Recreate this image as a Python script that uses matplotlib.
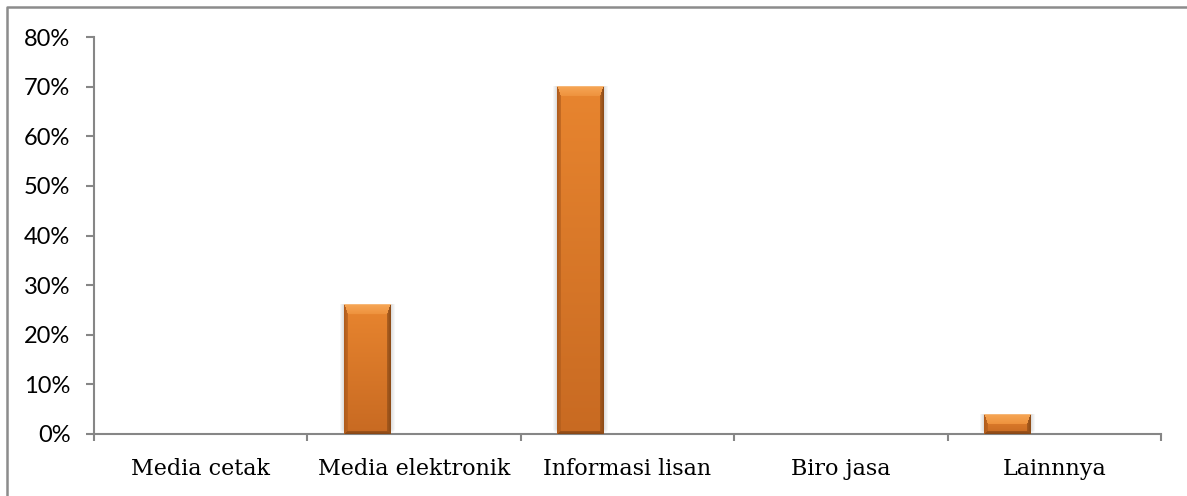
import numpy as np
import matplotlib
matplotlib.use("Agg")
import matplotlib.pyplot as plt
from matplotlib.lines import Line2D
from matplotlib.ticker import FuncFormatter, FixedLocator
from matplotlib.colors import to_rgb

categories = ["Media cetak", "Media elektronik", "Informasi lisan", "Biro jasa", "Lainnnya"]
shares = [0.0, 0.26, 0.70, 0.0, 0.04]
yticks = [0.0, 0.1, 0.2, 0.3, 0.4, 0.5, 0.6, 0.7, 0.8]

W, H, DPI = 1187, 496, 100
fig = plt.figure(figsize=(W / DPI, H / DPI), dpi=DPI)
fig.patch.set_facecolor("white")

ax = fig.add_axes([94 / W, 62 / H, (1161 - 94) / W, (434 - 37) / H])
ax.set_xlim(-0.5, len(categories) - 0.5)
ax.set_ylim(0, 0.8)

axis_grey = "#868686"
for side in ("top", "right"):
    ax.spines[side].set_visible(False)
for side in ("left", "bottom"):
    ax.spines[side].set_color(axis_grey)
    ax.spines[side].set_linewidth(1.5)

# y axis: percentages
ax.yaxis.set_major_locator(FixedLocator(yticks))
ax.yaxis.set_major_formatter(FuncFormatter(lambda v, p: f"{v * 100:.0f}%"))
ax.tick_params(axis="y", which="major", direction="out", length=6, width=1.5,
               color=axis_grey, pad=11, labelsize=17, labelcolor="#000000")
for lab in ax.get_yticklabels():
    lab.set_fontfamily("Lato")

# x axis: labels at category centres, tick marks at boundaries
idx = np.arange(len(categories))
ax.set_xticks(idx)
ax.set_xticklabels(categories, fontfamily="DejaVu Serif", fontsize=16)
ax.set_xticks(np.arange(-0.5, len(categories)), minor=True)
ax.tick_params(axis="x", which="major", length=0, pad=17)
ax.tick_params(axis="x", which="minor", direction="out", length=5, width=1.5,
               color=axis_grey)

# bars: first slot of a three-slot cluster
bw = 0.22
offset = -0.22
bars = ax.bar(idx + offset, shares, width=bw, color="#DC7A2A", edgecolor="none",
              zorder=2)


def bevel_image(wpx, hpx):
    wpx = max(int(round(wpx)), 2)
    hpx = max(int(round(hpx)), 2)
    body_top = np.array(to_rgb("#E8852F"))
    body_bot = np.array(to_rgb("#C86A22"))
    top_edge = np.array(to_rgb("#F7B878"))
    top_hi = np.array(to_rgb("#F6A655"))
    top_lo = np.array(to_rgb("#EE913C"))
    left_c = np.array(to_rgb("#B05C1C"))
    right_c = np.array(to_rgb("#8E4C18"))
    bot_c = np.array(to_rgb("#8A4816"))
    img = np.zeros((hpx, wpx, 3))
    bt, bs, bb = 10.0, 3.5, 3.0
    for i in range(hpx):
        t = i / max(hpx - 1, 1)
        body = body_top * (1 - t) + body_bot * t
        for j in range(wpx):
            dt = i / bt
            db = (hpx - 1 - i) / bb
            dl = j / bs
            dr = (wpx - 1 - j) / bs
            m = min(dt, db, dl, dr)
            if m >= 1:
                c = body
            elif m == dt:
                c = top_hi * (1 - dt) + top_lo * dt
                if i == 0:
                    c = top_edge
            elif m == dl:
                c = left_c * (1 - dl) + body * dl * 0.4 + left_c * dl * 0.6
            elif m == dr:
                c = right_c * (1 - dr) + body * dr * 0.4 + right_c * dr * 0.6
            else:
                c = bot_c * (1 - db) + body * db * 0.4 + bot_c * db * 0.6
            img[i, j] = c
    return img


def shadow_image(wpx, hpx, spread):
    wpx = int(round(wpx))
    hpx = int(round(hpx))
    tw, th = wpx + 2 * spread, hpx + spread
    img = np.zeros((th, tw, 4))
    img[..., :3] = 0.45
    for i in range(th):
        for j in range(tw):
            dx = max(spread - j, j - (spread + wpx - 1), 0)
            dy = max(i - (hpx - 1), 0)
            d = np.hypot(dx, dy)
            img[i, j, 3] = 0.28 * max(0.0, 1 - d / spread)
    return img


fig.canvas.draw()
inv = ax.transData.inverted()
for b, v in zip(bars, shares):
    if v <= 0:
        continue
    x0, y0 = b.get_x(), b.get_y()
    x1, y1 = x0 + b.get_width(), y0 + b.get_height()
    p0 = ax.transData.transform((x0, y0))
    p1 = ax.transData.transform((x1, y1))
    sp = 5
    s0 = inv.transform((p0[0] - sp, p0[1]))
    s1 = inv.transform((p1[0] + sp, p1[1]))
    sh = shadow_image(p1[0] - p0[0], p1[1] - p0[1], sp)
    ax.imshow(sh, extent=(s0[0], s1[0], y0, y1), aspect="auto",
              interpolation="bilinear", zorder=1.5)
    img = bevel_image(p1[0] - p0[0], p1[1] - p0[1])
    ax.imshow(img, extent=(x0, x1, y0, y1), aspect="auto",
              interpolation="bilinear", zorder=3)

ax.set_xlim(-0.5, len(categories) - 0.5)
ax.set_ylim(0, 0.8)

# outer frame (left and top edges)
fx = 6.5 / W
fy = 1 - 6.5 / H
fig.add_artist(Line2D([fx, fx, 1.0], [0.0, fy, fy], transform=fig.transFigure,
                      color="#8C8C8C", linewidth=1.8))

fig.savefig("out.png", dpi=DPI, facecolor="white")
